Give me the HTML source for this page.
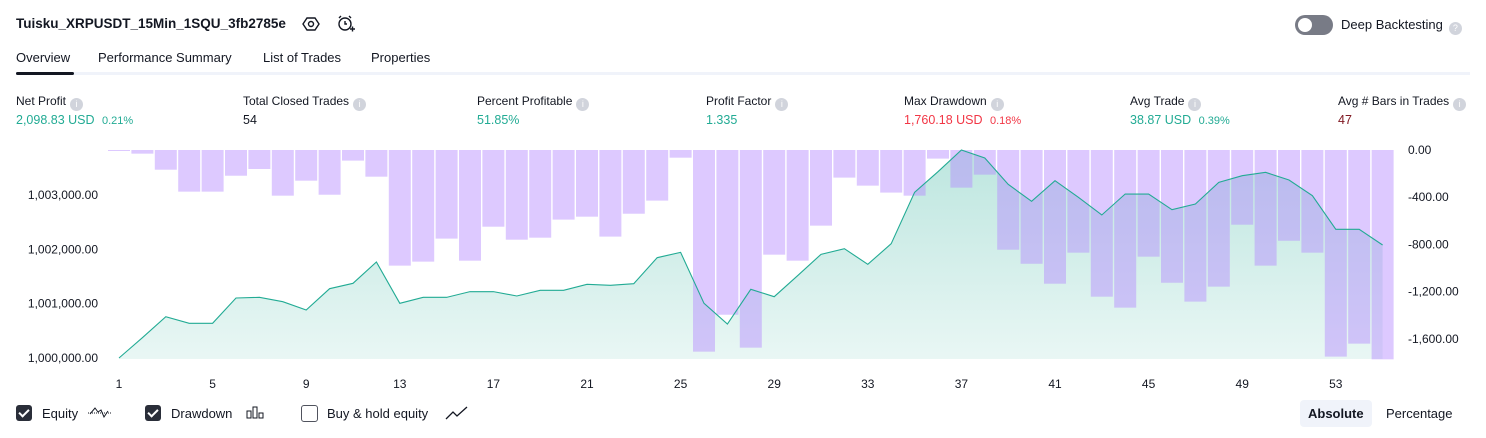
<!DOCTYPE html>
<html><head><meta charset="utf-8"><style>
body{margin:0;width:1486px;height:438px;background:#fff;font-family:"Liberation Sans",sans-serif;color:#131722;position:relative;overflow:hidden}
.a{position:absolute;white-space:nowrap}
.t{font-size:13px}
.lbl{font-size:12px;color:#131722}
.val{font-size:12.5px}
.i{display:inline-block;width:13px;height:13px;border-radius:50%;background:#d1d4dc;color:#fff;font-size:9px;text-align:center;line-height:13px;vertical-align:-2px;margin-left:4px}
.g{color:#22ab94}.r{color:#f23645}
.cb{position:absolute;width:16px;height:16px;border-radius:3px;top:405px}
.ck{background:#2a2e39}
.ck::after{content:"";position:absolute;left:5px;top:2px;width:4px;height:8px;border:solid #fff;border-width:0 2px 2px 0;transform:rotate(45deg)}
</style></head><body>
<div class="a" style="left:16px;top:16px;font-size:13.5px;font-weight:bold">Tuisku_XRPUSDT_15Min_1SQU_3fb2785e</div>
<svg class="a" style="left:302px;top:15px" width="18" height="18" viewBox="0 0 18 18"><polygon points="5,3 13,3 17,9 13,15 5,15 1,9" fill="none" stroke="#131722" stroke-width="1.4"/><circle cx="9" cy="9" r="2.5" fill="none" stroke="#131722" stroke-width="1.4"/></svg>
<svg class="a" style="left:336px;top:14px" width="20" height="20" viewBox="0 0 20 20"><circle cx="9" cy="10" r="6" fill="none" stroke="#131722" stroke-width="1.4"/><path d="M9 7v3h2M3 4l2-2M15 4l-2-2M14 15h5M16.5 12.5v5" stroke="#131722" stroke-width="1.4" fill="none"/></svg>
<div class="a" style="left:1295px;top:15px;width:38px;height:20px;border-radius:10px;background:#787b86"><div style="position:absolute;left:3px;top:3px;width:14px;height:14px;border-radius:50%;background:#fff"></div></div>
<div class="a t" style="left:1341px;top:17px">Deep Backtesting<span class="i" style="margin-left:6px">?</span></div>
<div class="a t" style="left:16px;top:50px">Overview</div>
<div class="a t" style="left:98px;top:50px">Performance Summary</div>
<div class="a t" style="left:263px;top:50px">List of Trades</div>
<div class="a t" style="left:371px;top:50px">Properties</div>
<div class="a" style="left:16px;top:72px;width:1454px;height:3px;background:#f0f3fa"></div>
<div class="a" style="left:16px;top:72px;width:58px;height:3px;border-radius:2px;background:#131722"></div>

<div class="a lbl" style="left:16px;top:94px">Net Profit<span class="i">i</span></div>
<div class="a val g" style="left:16px;top:113px">2,098.83 USD <span style="font-size:11px;margin-left:4px">0.21%</span></div>
<div class="a lbl" style="left:243px;top:94px">Total Closed Trades<span class="i">i</span></div>
<div class="a val" style="left:243px;top:113px">54</div>
<div class="a lbl" style="left:477px;top:94px">Percent Profitable<span class="i">i</span></div>
<div class="a val g" style="left:477px;top:113px">51.85%</div>
<div class="a lbl" style="left:706px;top:94px">Profit Factor<span class="i">i</span></div>
<div class="a val g" style="left:706px;top:113px">1.335</div>
<div class="a lbl" style="left:904px;top:94px">Max Drawdown<span class="i">i</span></div>
<div class="a val r" style="left:904px;top:113px">1,760.18 USD <span style="font-size:11px;margin-left:4px">0.18%</span></div>
<div class="a lbl" style="left:1130px;top:94px">Avg Trade<span class="i">i</span></div>
<div class="a val g" style="left:1130px;top:113px">38.87 USD <span style="font-size:11px;margin-left:4px">0.39%</span></div>
<div class="a lbl" style="left:1338px;top:94px">Avg # Bars in Trades<span class="i">i</span></div>
<div class="a val" style="left:1338px;top:113px;color:#801922">47</div>

<svg id="chart" class="a" style="left:0;top:0" width="1486" height="438">
<defs><linearGradient id="ag" x1="0" y1="0" x2="0" y2="1"><stop offset="0" stop-color="#22ab94" stop-opacity="0.3"/><stop offset="1" stop-color="#22ab94" stop-opacity="0.1"/></linearGradient></defs>
</svg>

<div class="cb ck" style="left:16px"></div>
<div class="a t" style="left:42px;top:406px">Equity</div>
<svg class="a" style="left:87px;top:404px" width="26" height="18"><path d="M1 9H25" stroke="#131722" stroke-dasharray="1 1"/><path d="M3 10L8 4L11 8L14 6L17 13L21 7" stroke="#131722" fill="none"/></svg>
<div class="cb ck" style="left:145px"></div>
<div class="a t" style="left:171px;top:406px">Drawdown</div>
<svg class="a" style="left:246px;top:404px" width="20" height="18"><rect x="1" y="7" width="4" height="7" fill="none" stroke="#131722"/><rect x="7" y="3" width="4" height="11" fill="none" stroke="#131722"/><rect x="13" y="9" width="4" height="5" fill="none" stroke="#131722"/></svg>
<div class="cb" style="left:301px;border:1px solid #50535e;width:15px;height:15px"></div>
<div class="a t" style="left:327px;top:406px">Buy &amp; hold equity</div>
<svg class="a" style="left:445px;top:404px" width="24" height="18"><path d="M1 15L8 8L12 12L22 3" stroke="#131722" fill="none" stroke-width="1.3"/></svg>
<div class="a t" style="left:1300px;top:400px;padding:6px 8px;background:#f0f3fa;border-radius:4px;font-weight:bold">Absolute</div>
<div class="a t" style="left:1386px;top:406px">Percentage</div>

<script>
const trades=[1,5,9,13,17,21,25,29,33,37,41,45,49,53];
const equity=[0,374,761,639,639,1105,1117,1037,884,1277,1375,1768,1007,1117,1117,1222,1222,1142,1246,1246,1357,1338,1369,1848,1946,1007,626,1265,1129,1516,1909,2013,1725,2105,3051,3431,3831,3683,3198,2885,3266,2959,2634,3020,3020,2732,2836,3235,3358,3419,3278,2990,2370,2370,2081];
const drawdown=[6,31,167,353,353,218,161,387,260,379,90,226,980,946,751,938,650,760,743,590,565,734,540,429,65,1709,1396,1675,887,938,641,234,302,361,387,73,319,209,845,964,1133,870,1243,1336,904,1125,1285,1158,633,980,769,870,1751,1641,1774];
const leftTicks=[1000000,1001000,1002000,1003000];
const rightTicks=[0,-400,-800,-1200,-1600];
const base=1000000;
const NS='http://www.w3.org/2000/svg';
const svg=document.getElementById('chart');
const X=i=>119+i*23.4;
const YE=v=>358-v*0.0543;
const YD=v=>150+v*0.118;
function mk(t,a){const e=document.createElementNS(NS,t);for(const k in a)e.setAttribute(k,a[k]);svg.appendChild(e);return e;}
// area
let d='M'+X(0)+' '+YE(0);
equity.forEach((v,i)=>{d+=' L'+X(i)+' '+YE(v);});
const area=mk('path',{d:d+' L'+X(equity.length-1)+' 359 L'+X(0)+' 359 Z',fill:'url(#ag)'});


drawdown.forEach((v,i)=>{
  const r=mk('rect',{x:X(i)-11,y:150,width:22,height:Math.max(1,YD(v)-150),fill:'rgba(179,136,255,0.45)'});
  
  
});
const line=mk('polyline',{points:equity.map((v,i)=>X(i)+','+YE(v)).join(' '),fill:'none',stroke:'#22ab94','stroke-width':1.1});


leftTicks.forEach(v=>{
  const t=mk('text',{x:98,y:YE(v-base)+4,'text-anchor':'end','font-size':12,fill:'#131722','font-family':'Liberation Sans, sans-serif'});
  t.textContent=v.toLocaleString('en-US',{minimumFractionDigits:2});
  
  
});
rightTicks.forEach(v=>{
  const t=mk('text',{x:1408,y:YD(-v)+4,'font-size':12,fill:'#131722','font-family':'Liberation Sans, sans-serif'});
  t.textContent=(v===0?'0.00':v.toLocaleString('en-US',{minimumFractionDigits:2}));
  
  
});
trades.forEach(n=>{
  const t=mk('text',{x:X(n-1),y:388,'text-anchor':'middle','font-size':12,fill:'#131722','font-family':'Liberation Sans, sans-serif'});
  t.textContent=n;
  
  
});
</script>
</body></html>
